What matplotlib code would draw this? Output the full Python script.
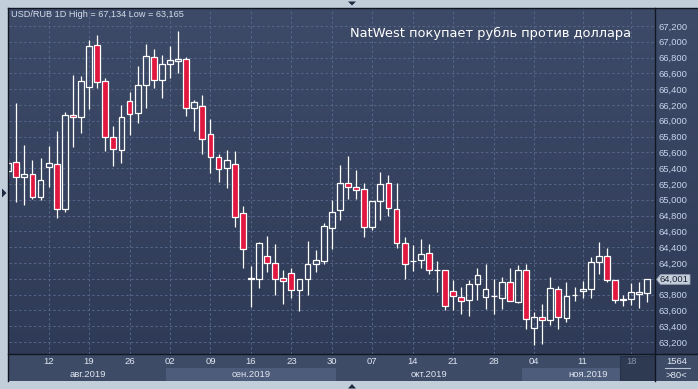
import numpy as np
import matplotlib.pyplot as plt
from matplotlib.colors import LinearSegmentedColormap
from matplotlib.lines import Line2D
from matplotlib.patches import Polygon, Rectangle

W, H = 698, 389

# USD/RUB daily candles (80 bars)
opens = [65365, 65475, 65285, 65323, 65039, 65419, 65449, 64880, 66070, 66044,
         66424, 66959, 66504, 65791, 65627, 66251, 66095, 66449, 66804, 66513,
         66715, 66753, 66778, 66158, 66191, 65829, 65538, 65399, 65449, 64829,
         64005, 63999, 64285, 64196, 64006, 64070, 63854, 63999, 64183, 64229,
         64639, 64867, 65209, 65158, 65137, 64660, 64981, 65209, 64884, 64449,
         64222, 64234, 64323, 64109, 64107, 63842, 63766, 63728, 63930, 63766,
         63782, 63753, 63956, 63710, 64107, 63373, 63513, 63475, 63867, 63500,
         63791, 63842, 63867, 64209, 64285, 63981, 63728, 63741, 63811, 63816]
highs = [65529, 66229, 65694, 65504, 65529, 65681, 65871, 66108, 66580, 66571,
         67023, 67086, 66538, 65934, 66200, 66368, 66694, 66972, 66905, 66833,
         66947, 67134, 66804, 66263, 66327, 66023, 65580, 65630, 65618, 64922,
         64162, 64462, 64542, 64437, 64107, 64133, 63994, 64479, 64365, 64702,
         64998, 65443, 65554, 65377, 65209, 64981, 65352, 65314, 65213, 64529,
         64428, 64504, 64441, 64225, 64107, 63985, 63900, 63985, 64141, 64187,
         63994, 64023, 64137, 64175, 64187, 63576, 63681, 64023, 63909, 63959,
         63900, 63972, 64276, 64466, 64390, 63981, 63791, 63947, 63959, 64001]
lows = [65301, 64976, 64934, 65010, 64997, 65166, 64773, 64849, 65665, 65849,
        66149, 66419, 65621, 65432, 65470, 65820, 65976, 66158, 66419, 66292,
        66546, 66609, 66065, 65875, 65580, 65343, 65229, 65153, 64660, 64141,
        63647, 63887, 64090, 63799, 63685, 63761, 63596, 63799, 64090, 64191,
        64377, 64748, 65010, 65014, 64533, 64614, 64748, 64795, 64393, 63999,
        64099, 64141, 64057, 63837, 63609, 63605, 63551, 63531, 63732, 63621,
        63551, 63621, 63715, 63690, 63361, 63165, 63171, 63412, 63361, 63457,
        63723, 63761, 63761, 64057, 63963, 63698, 63660, 63672, 63634, 63710]
closes = [65466, 65292, 65323, 65039, 65247, 65462, 64887, 66070, 66044, 66504,
          66947, 66491, 65791, 65639, 66044, 66082, 66449, 66816, 66513, 66715,
          66766, 66778, 66158, 66234, 65766, 65538, 65386, 65500, 64778, 64373,
          63995, 64449, 64196, 63999, 63976, 63854, 63994, 64187, 64234, 64668,
          64842, 65209, 65158, 65128, 64660, 64981, 65196, 64892, 64449, 64187,
          64222, 64310, 64107, 64109, 63652, 63779, 63715, 63930, 64044, 63867,
          63782, 63956, 63715, 64107, 63487, 63513, 63475, 63884, 63513, 63779,
          63791, 63867, 64209, 64285, 63981, 63728, 63741, 63829, 63829, 64001]

day_ticks = [5, 10, 15, 20, 25, 30, 35, 40, 45, 50, 55, 60, 65, 71, 77]
day_labels = ["12", "19", "26", "02", "09", "16", "23", "30", "07", "14",
              "21", "28", "04", "11", "18"]
months = ["авг.2019", "сен.2019", "окт.2019", "ноя.2019"]
month_edges = [0.1, 19.5, 40.5, 63.5, 79.95]
price_ticks = np.arange(63200, 67201, 200)
last_price = 64001
bars_total = 1564
bars_shown = 80

small = "Liberation Sans"
up_col = "white"
down_col = "#e1173f"


def fx(x):
    return x / W


def fy(y):
    return 1 - y / H


fig = plt.figure(figsize=(W / 100, H / 100), dpi=100, facecolor="#c3cedb")

# gradient behind chart + price scale
bg = fig.add_axes([fx(9), fy(354), fx(698 - 9), (354 - 8) / H])
grad = np.linspace(0, 1, 256).reshape(-1, 1)
cmap = LinearSegmentedColormap.from_list("bg", ["#3e4b68", "#2e3a56"])
bg.imshow(grad, aspect="auto", cmap=cmap, extent=[0, 1, 0, 1])
bg.set_axis_off()

# main candle chart
ax = fig.add_axes([fx(9), fy(354), fx(655 - 9), (354 - 8) / H])
ax.set_facecolor("none")
ax.set_xlim(month_edges[0], month_edges[-1])
ax.set_ylim(63048, 67428)
for s in ax.spines.values():
    s.set_visible(False)

x = np.arange(len(opens))
o = np.array(opens)
hi = np.array(highs)
lo = np.array(lows)
c = np.array(closes)
up = c >= o
b_lo = np.minimum(o, c)
b_hi = np.maximum(o, c)

ax.vlines(x, b_hi, hi, color="white", lw=0.9, zorder=3)
ax.vlines(x, lo, b_lo, color="white", lw=0.9, zorder=3)
ax.bar(x[up], (b_hi - b_lo)[up], bottom=b_lo[up], width=0.72,
       facecolor="none", edgecolor=up_col, lw=0.9, zorder=4)
ax.bar(x[~up], (b_hi - b_lo)[~up], bottom=b_lo[~up], width=0.72,
       facecolor=down_col, edgecolor="white", lw=0.9, zorder=4)

ax.set_xticks(day_ticks)
ax.set_xticklabels([])
ax.yaxis.tick_right()
ax.set_yticks(price_ticks)
# the 64,000 label sits under the last-price tag, so leave it blank
ylabels = ["" if abs(v - last_price) < 100 else f"{v:,}" for v in price_ticks]
ax.set_yticklabels(ylabels, fontfamily=small)
ax.tick_params(length=0)
ax.tick_params(axis="y", labelsize=6.8, labelcolor="#c6d5ec", pad=2.2)
ax.grid(color="#56668a", lw=0.7, linestyle=(0, (2.5, 2.5)), zorder=1)

ax.text(0.003, 0.982, "USD/RUB 1D High = 67,134 Low = 63,165",
        transform=ax.transAxes, ha="left", va="center", fontsize=6.6,
        family=small, color="#d4dcea")
fig.text(fx(350), fy(33), "NatWest покупает рубль против доллара",
         ha="left", va="center", fontsize=9.4, family="DejaVu Sans",
         color="white")

# time axis strip
axb = fig.add_axes([fx(9), fy(381), fx(655 - 9), 27 / H])
axb.set_xlim(month_edges[0], month_edges[-1])
axb.set_ylim(27, 0)
axb.set_facecolor("#3e4b67")
for s in axb.spines.values():
    s.set_visible(False)
axb.set_xticks([])
axb.set_yticks([])
for i, m in enumerate(months):
    a, b = month_edges[i], month_edges[i + 1]
    if i % 2 == 1:
        axb.fill_between([a, b], 14, 27, color="#4d5c7a", lw=0)
    axb.text((a + b) / 2, 20.5, m, ha="center", va="center", fontsize=6.8,
             family=small, color="#dfe6f1")
axb.add_patch(Rectangle((75.6, 2), 79.95 - 75.6, 25, facecolor="#2e3952",
                        edgecolor="#27314a", lw=0.8))
for t, lab in zip(day_ticks, day_labels):
    col = "#8593ab" if lab == "18" else "#dfe6f1"
    axb.text(t, 8, lab, ha="center", va="center", fontsize=6.8,
             family=small, color=col)

# bottom right counter box
fig.add_artist(Rectangle((fx(655), fy(381)), fx(43), 27 / H,
                         facecolor="#3e4b67", lw=0))
fig.text(fx(677), fy(361), str(bars_total), ha="center", va="center",
         fontsize=6.8, family=small, color="#e2e8f2")
fig.text(fx(676), fy(375), f">{bars_shown}<", ha="center", va="center",
         fontsize=6.8, family=small, color="#e2e8f2")
fig.add_artist(Line2D([fx(665), fx(690)], [fy(367.5), fy(367.5)],
                      color="#b8c3d3", lw=0.8))

# last price tag
tag_y = 279.5
tag = Polygon([(fx(656.5), fy(tag_y)), (fx(660.5), fy(tag_y - 4.8)),
               (fx(690), fy(tag_y - 4.8)), (fx(690), fy(tag_y + 4.8)),
               (fx(660.5), fy(tag_y + 4.8))], closed=True,
              facecolor="#c8d0dc", edgecolor="#9aa6b8", lw=0.6,
              transform=fig.transFigure)
fig.add_artist(tag)
fig.text(fx(674), fy(tag_y), f"{last_price:,}", ha="center", va="center",
         fontsize=6.8, family=small, color="#1b2436")

# frame lines
dark = "#111722"
for xs, ys in [([8, 8], [8, 381]), ([8, 698], [8, 8]),
               ([655, 655], [8, 381]), ([8, 698], [354, 354])]:
    fig.add_artist(Line2D([fx(v) for v in xs], [fy(v) for v in ys],
                          color=dark, lw=1.0))

# little navigation triangles
tri = "#1f2b40"
for pts in [[(348, 1.5), (356, 1.5), (352, 5.5)],
            [(348, 388.5), (356, 388.5), (352, 384)],
            [(2, 188.5), (2, 197.5), (6.5, 193)]]:
    fig.add_artist(Polygon([(fx(a), fy(b)) for a, b in pts], closed=True,
                           facecolor=tri, lw=0, transform=fig.transFigure))

fig.savefig("out.png", dpi=100, facecolor=fig.get_facecolor())
